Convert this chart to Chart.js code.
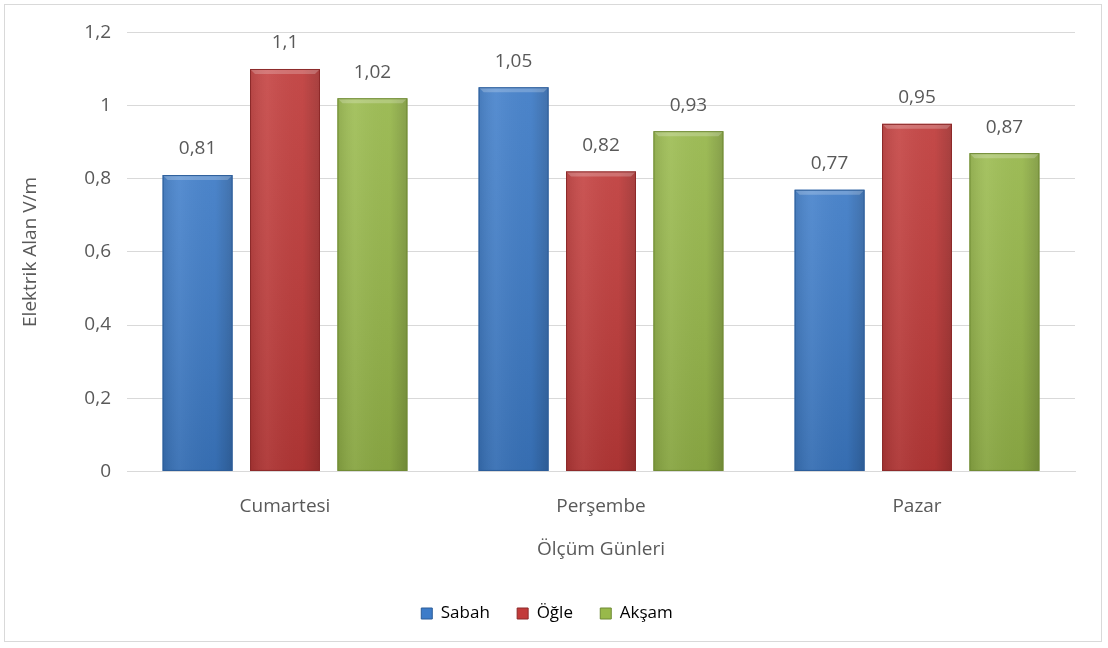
<!DOCTYPE html>
<html>
<head>
<meta charset="utf-8">
<script src="https://cdn.jsdelivr.net/npm/chart.js@4.4.0/dist/chart.umd.min.js"></script>
<style>
    html, body { margin: 0; padding: 0; background: #fff; }
    #wrap {
        position: absolute; left: 4px; top: 4px;
        width: 1098px; height: 638px;
        border: 1px solid #d9d9d9; box-sizing: border-box;
    }
    #chart { display: block; }
</style>
</head>
<body>
<div id="wrap"><canvas id="chart" width="1096" height="636"></canvas></div>
<script>
const days = ['Cumartesi', 'Perşembe', 'Pazar'];
const sabah = [0.81, 1.05, 0.77];
const ogle = [1.1, 0.82, 0.95];
const aksam = [1.02, 0.93, 0.87];
const seriesNames = ['Sabah', 'Öğle', 'Akşam'];
const barColors = ['#3d7cc9', '#c23b3a', '#98b94a'];
const edgeColors = ['#2c5d99', '#8c2a2a', '#6f8a34'];

const FONT = '"Open Sans", "Liberation Sans", sans-serif';
const TEXT = '#595959';
const FS = 19;

function fmt(v) {
    return (Math.round(v * 100) / 100).toString().replace('.', ',');
}

// shading on top of each bar, read from the bar elements
const bevelPlugin = {
    id: 'bevel',
    afterDatasetsDraw(chart) {
        const ctx = chart.ctx;
        chart.data.datasets.forEach((ds, i) => {
            chart.getDatasetMeta(i).data.forEach(bar => {
                const left = bar.x - bar.width / 2;
                const top = bar.y;
                const w = bar.width;
                const h = bar.base - bar.y;
                ctx.save();
                let g = ctx.createLinearGradient(left, 0, left + w, 0);
                g.addColorStop(0, 'rgba(0,0,0,0.10)');
                g.addColorStop(0.25, 'rgba(255,255,255,0.06)');
                g.addColorStop(0.75, 'rgba(0,0,0,0.02)');
                g.addColorStop(1, 'rgba(0,0,0,0.18)');
                ctx.fillStyle = g;
                ctx.fillRect(left, top, w, h);
                g = ctx.createLinearGradient(0, top, 0, top + h);
                g.addColorStop(0, 'rgba(255,255,255,0.08)');
                g.addColorStop(1, 'rgba(0,0,0,0.10)');
                ctx.fillStyle = g;
                ctx.fillRect(left, top, w, h);
                // top bevel
                ctx.fillStyle = 'rgba(255,255,255,0.22)';
                ctx.beginPath();
                ctx.moveTo(left, top);
                ctx.lineTo(left + w, top);
                ctx.lineTo(left + w - 5, top + 5);
                ctx.lineTo(left + 5, top + 5);
                ctx.closePath();
                ctx.fill();
                ctx.strokeStyle = edgeColors[i];
                ctx.lineWidth = 1;
                ctx.strokeRect(left + 0.5, top + 0.5, w - 1, h - 1);
                ctx.restore();
            });
        });
    }
};

const valueLabels = {
    id: 'valueLabels',
    afterDatasetsDraw(chart) {
        const ctx = chart.ctx;
        ctx.save();
        ctx.font = FS + 'px ' + FONT;
        ctx.fillStyle = TEXT;
        ctx.textAlign = 'center';
        ctx.textBaseline = 'middle';
        chart.data.datasets.forEach((ds, i) => {
            chart.getDatasetMeta(i).data.forEach((bar, j) => {
                ctx.fillText(fmt(ds.data[j]), bar.x, bar.y - 26);
            });
        });
        ctx.restore();
    }
};

new Chart(document.getElementById('chart'), {
    type: 'bar',
    data: {
        labels: days,
        datasets: [sabah, ogle, aksam].map((d, i) => ({
            label: seriesNames[i],
            data: d,
            backgroundColor: barColors[i],
            borderWidth: 0,
            categoryPercentage: 0.83,
            barPercentage: 0.8
        }))
    },
    options: {
        responsive: false,
        animation: false,
        layout: { padding: { left: 14, right: 26, top: 14, bottom: 9 } },
        plugins: {
            tooltip: { enabled: false },
            legend: {
                position: 'bottom',
                labels: {
                    font: { family: FONT, size: 17 },
                    color: TEXT,
                    boxWidth: 11,
                    boxHeight: 11,
                    padding: 16,
                    // wider gap between items, as in the original
                    generateLabels: chart => seriesNames.map((n, i) => ({
                        text: i < seriesNames.length - 1 ? n + '\u2002\u2009' : n,
                        fillStyle: barColors[i],
                        strokeStyle: edgeColors[i],
                        lineWidth: 1,
                        datasetIndex: i
                    }))
                }
            }
        },
        scales: {
            x: {
                grid: { display: false },
                border: { color: '#d9d9d9' },
                ticks: { font: { family: FONT, size: FS }, color: TEXT, padding: 16 },
                title: {
                    display: true, text: 'Ölçüm Günleri',
                    font: { family: FONT, size: FS }, color: TEXT,
                    padding: { top: 4, bottom: 28 }
                }
            },
            y: {
                min: 0, max: 1.2,
                afterFit: scale => { scale.width = 108; },
                grid: { color: '#d9d9d9', tickLength: 0 },
                border: { display: false },
                ticks: {
                    stepSize: 0.2,
                    font: { family: FONT, size: FS }, color: TEXT, padding: 16,
                    callback: v => fmt(v)
                },
                title: {
                    display: true, text: 'Elektrik Alan V/m',
                    font: { family: FONT, size: FS }, color: TEXT,
                    padding: { top: 0, bottom: 10 }
                }
            }
        }
    },
    plugins: [bevelPlugin, valueLabels]
});
</script>
</body>
</html>
